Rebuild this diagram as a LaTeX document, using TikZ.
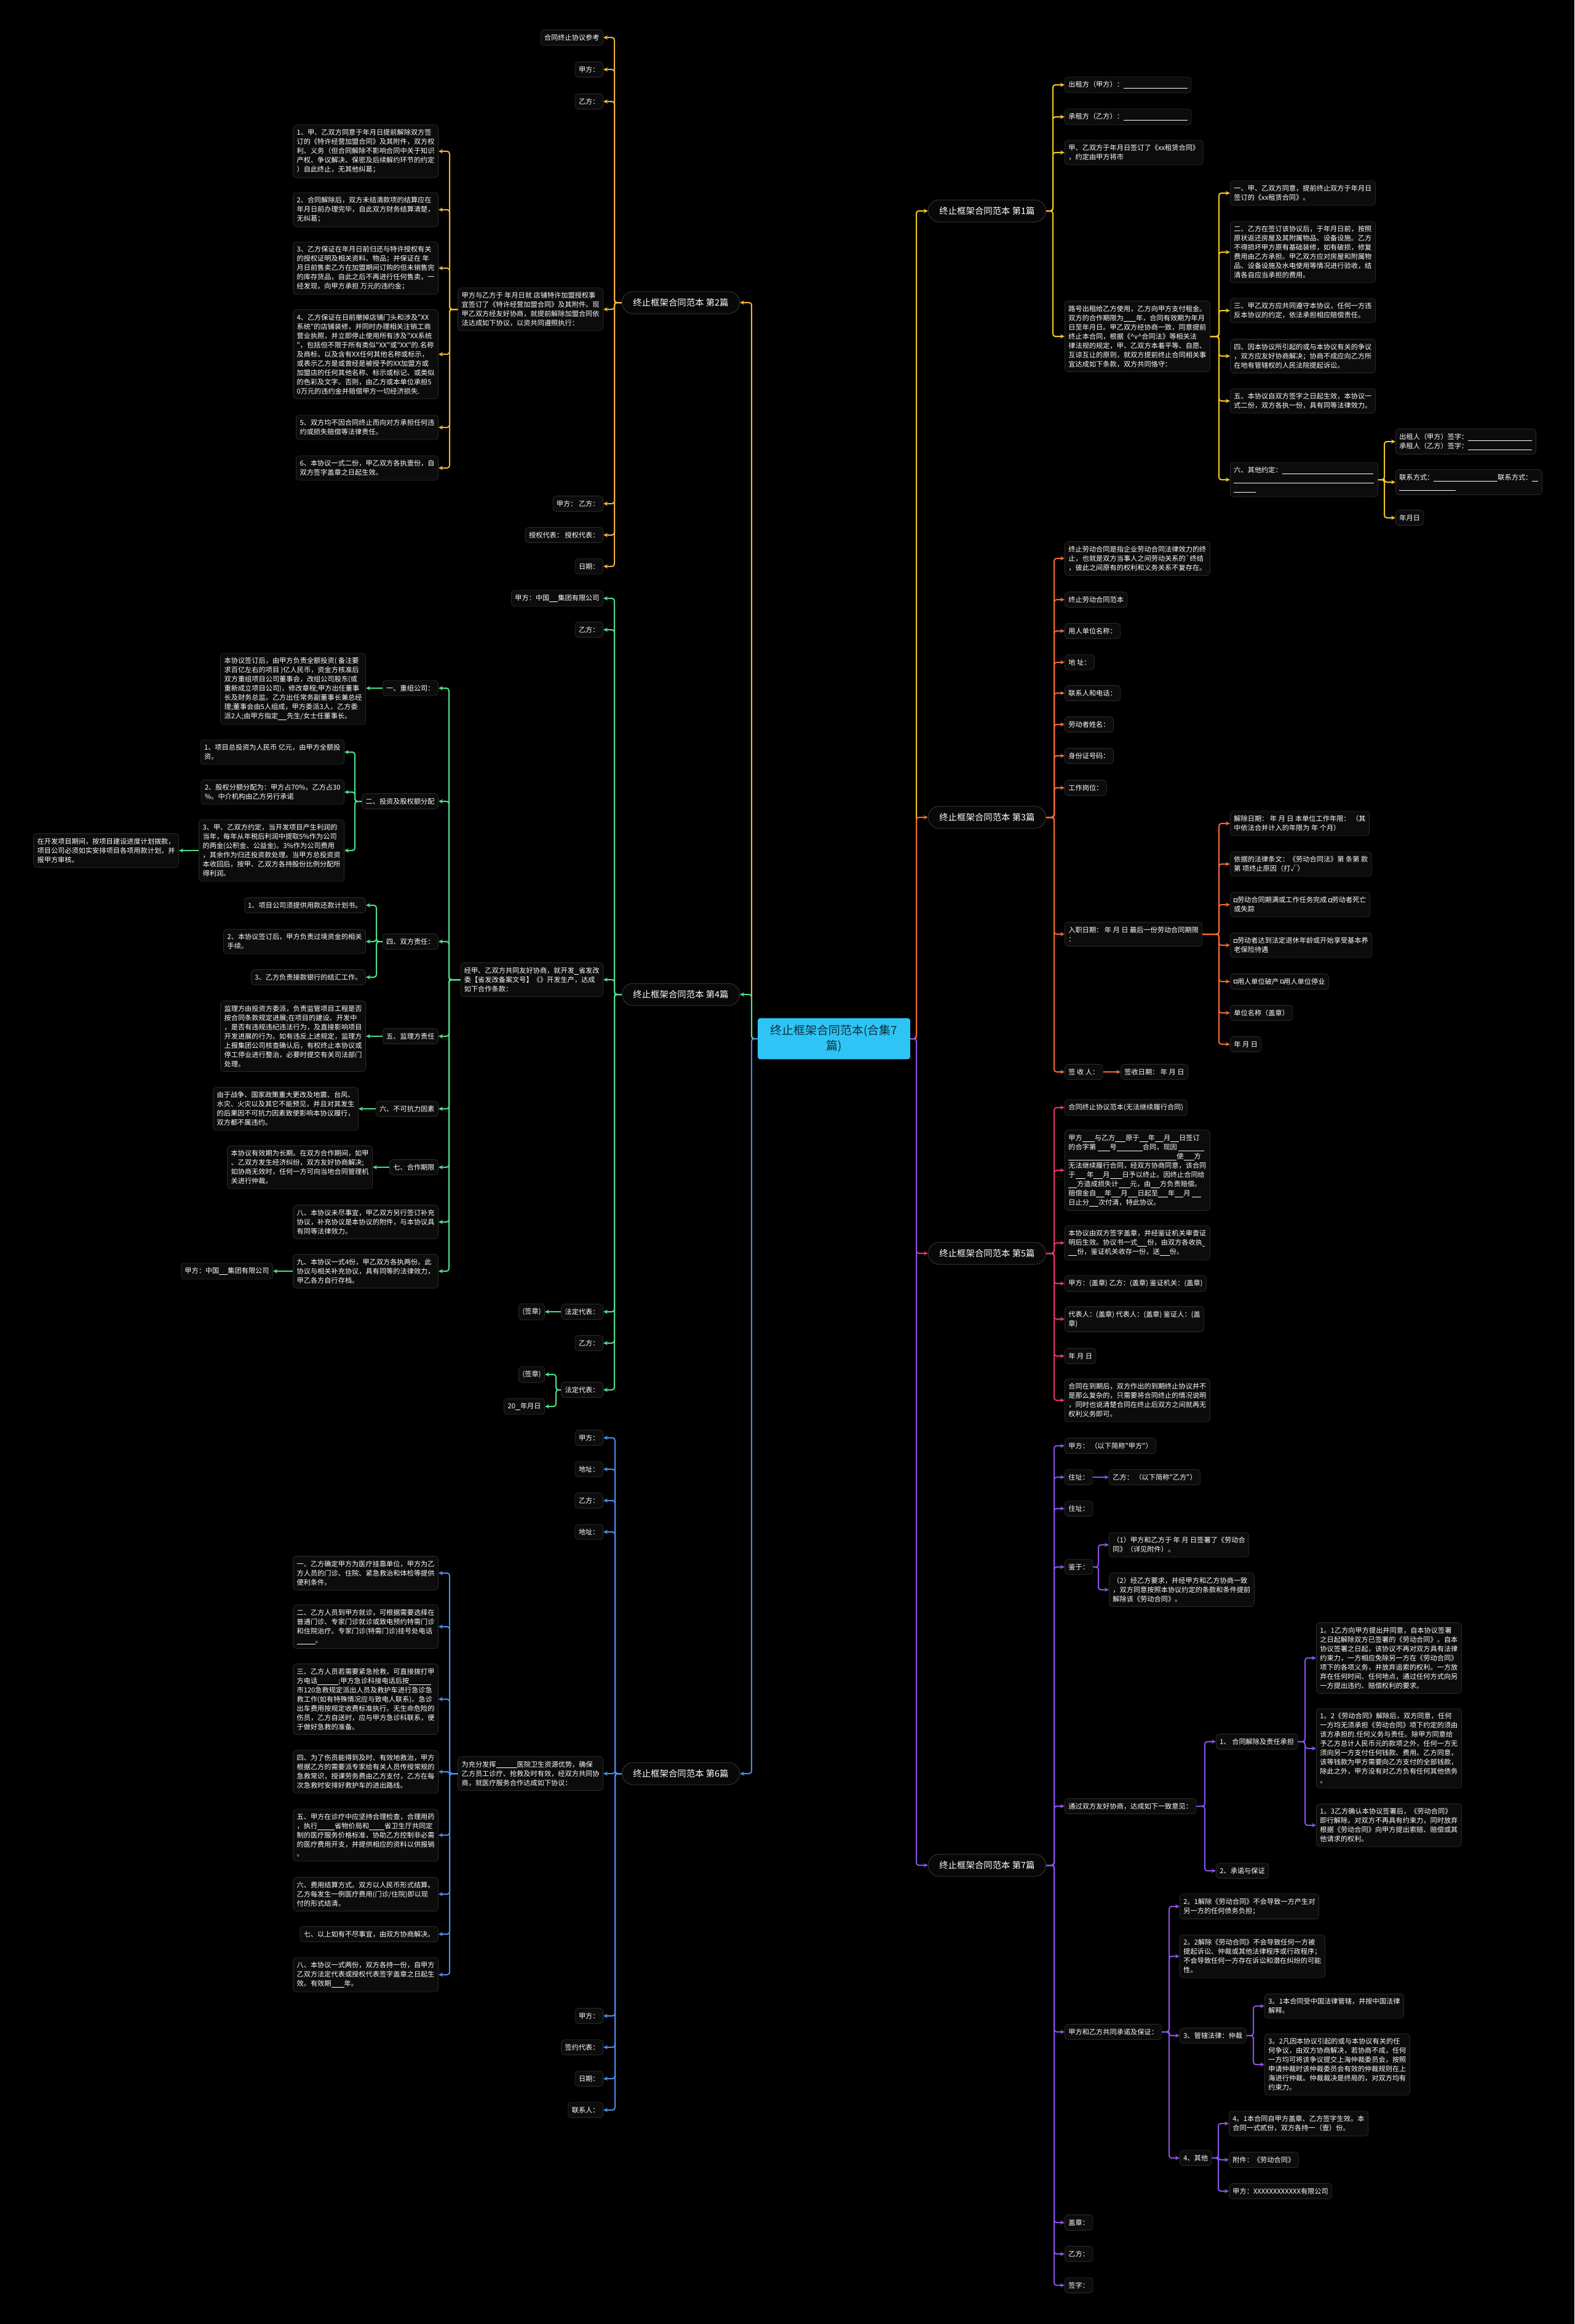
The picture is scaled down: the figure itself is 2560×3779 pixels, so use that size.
\documentclass[tikz,border=0pt]{standalone}
\usepackage{fontspec}
\newfontfamily\cjk{Noto Sans CJK SC}
\usetikzlibrary{arrows.meta}
\definecolor{boxfill}{HTML}{0C0C0C}
\definecolor{boxline}{HTML}{2A2A2A}
\definecolor{brfill}{HTML}{080808}
\definecolor{brline}{HTML}{333333}
\definecolor{ctr}{HTML}{2EC5F6}
\definecolor{ctrtext}{HTML}{12303F}
\definecolor{cA}{HTML}{F5C52B}
\definecolor{cB}{HTML}{EFB23A}
\definecolor{cC}{HTML}{F26A37}
\definecolor{cD}{HTML}{4FE08A}
\definecolor{cE}{HTML}{E8336F}
\definecolor{cF}{HTML}{4C8CEB}
\definecolor{cG}{HTML}{8B52E6}
\newcommand\bl[1]{\rule[-1pt]{#1pt}{0.35pt}}
\newcommand\sq{\raisebox{1pt}{\setlength\fboxsep{0pt}\setlength\fboxrule{0.3pt}\fbox{\rule{2.2pt}{0pt}\rule{0pt}{2.2pt}}}}
\newcommand\fs{\cjk\fontsize{5.6pt}{7.5pt}\selectfont}
\newcommand\cR[4]{\draw[con,#1] (#2.east) -- (#2.east -| #3) |- (#4.west);}
\newcommand\cL[4]{\draw[con,#1] (#2.west) -- (#2.west -| #3) |- (#4.east);}
\newcommand\dR[3]{\draw[con,#1] (#2.east) -- (#2.east -| #3.west);}
\newcommand\dL[3]{\draw[con,#1] (#2.west) -- (#2.west -| #3.east);}
\tikzset{
 bx/.style={draw=boxline, fill=boxfill, line width=0.4pt, rounded corners=2.5pt, text=white, font=\fs, align=left, inner xsep=3pt, inner ysep=3.6pt},
 lt/.style={bx, anchor=east},
 rt/.style={bx, anchor=west},
 brn/.style={draw=brline, fill=brfill, line width=0.5pt, rounded corners=9pt, text=white, font=\cjk\fontsize{7.2pt}{9pt}\selectfont, inner xsep=9pt, inner ysep=5pt, minimum height=18pt},
 ctrbox/.style={fill=ctr, rounded corners=2pt, text=ctrtext, font=\cjk\fontsize{9.5pt}{12.5pt}\selectfont, align=center, text width=108pt, inner xsep=8pt, inner ysep=5.5pt},
 con/.style={line width=1pt, rounded corners=2pt, -{Stealth[length=3.5pt,width=3.4pt]}},
}
\begin{document}
\begin{tikzpicture}[x=0.5pt,y=-0.5pt]
\fill[black] (0,0) rectangle (2560,3779);
\useasboundingbox (0,0) rectangle (2560,3779);
% trunk coordinates
\coordinate (R0) at (1490,0);
\coordinate (L0) at (1222,0);
\coordinate (T1) at (1712,0);
\coordinate (T1b) at (1982,0);
\coordinate (T1c) at (2251,0);
\coordinate (T3) at (1714,0);
\coordinate (T3b) at (1982,0);
\coordinate (T5) at (1714,0);
\coordinate (T7) at (1714,0);
\coordinate (T7a) at (1786,0);
\coordinate (T7b) at (1959,0);
\coordinate (T7c) at (2122,0);
\coordinate (T7d) at (1901,0);
\coordinate (T7e) at (2038,0);
\coordinate (T7f) at (1981,0);
\coordinate (T2) at (999,0);
\coordinate (T2b) at (731,0);
\coordinate (T4) at (999,0);
\coordinate (T4b) at (730,0);
\coordinate (T4d) at (577,0);
\coordinate (T4f) at (612,0);
\coordinate (T4g) at (904,0);
\coordinate (T6) at (1000,0);
\coordinate (T6b) at (731,0);

% center and branches
\node[ctrbox] (c0) at (1356,1689) {终止框架合同范本(合集7\\篇)};
\node[brn] (b1) at (1605,343) {终止框架合同范本 第1篇};
\node[brn] (b3) at (1605,1329) {终止框架合同范本 第3篇};
\node[brn] (b5) at (1605,2038) {终止框架合同范本 第5篇};
\node[brn] (b7) at (1605,3033) {终止框架合同范本 第7篇};
\node[brn] (b2) at (1107,492) {终止框架合同范本 第2篇};
\node[brn] (b4) at (1107,1617) {终止框架合同范本 第4篇};
\node[brn] (b6) at (1107,2884) {终止框架合同范本 第6篇};

% ===== 第1篇 =====
\node[rt] (n1a) at (1731,138) {出租方（甲方）：\bl{52}};
\node[rt] (n1b) at (1731,190) {承租方（乙方）：\bl{52}};
\node[rt] (n1c) at (1731,248) {甲、乙双方于年月日签订了《xx租赁合同》\\，约定由甲方将市};
\node[rt] (n1d) at (1731,547) {路号出租给乙方使用，乙方向甲方支付租金。\\双方的合作期限为\bl{10}年，合同有效期为年月\\日至年月日。甲乙双方经协商一致，同意提前\\终止本合同，根据《\textasciicircum v\textasciicircum 合同法》等相关法\\律法规的规定，甲、乙双方本着平等、自愿、\\互谅互让的原则，就双方提前终止合同相关事\\宜达成如下条款，双方共同恪守：};
\node[rt] (n1d1) at (2000,314) {一、甲、乙双方同意，提前终止双方于年月日\\签订的《xx租赁合同》。};
\node[rt] (n1d2) at (2000,410) {二、乙方在签订该协议后，于年月日前，按照\\原状返还房屋及其附属物品、设备设施。乙方\\不得损坏甲方原有基础装修，如有破损，修复\\费用由乙方承担。甲乙双方应对房屋和附属物\\品、设备设施及水电使用等情况进行验收，结\\清各自应当承担的费用。};
\node[rt] (n1d3) at (2000,505) {三、甲乙双方应共同遵守本协议，任何一方违\\反本协议的约定，依法承担相应赔偿责任。};
\node[rt] (n1d4) at (2000,579) {四、因本协议所引起的或与本协议有关的争议\\，双方应友好协商解决；协商不成应向乙方所\\在地有管辖权的人民法院提起诉讼。};
\node[rt] (n1d5) at (2000,652) {五、本协议自双方签字之日起生效，本协议一\\式二份，双方各执一份，具有同等法律效力。};
\node[rt] (n1d6) at (2000,780) {六、其他约定：\bl{74}\\\bl{114}\\\bl{18}};
\node[rt] (n1e1) at (2269,718) {出租人（甲方）签字：\bl{52}\\承租人（乙方）签字：\bl{52}};
\node[rt] (n1e2) at (2269,784) {联系方式：\bl{52}联系方式：\bl{5}\\\bl{46}};
\node[rt] (n1e3) at (2269,842) {年月日};

% ===== 第3篇 =====
\node[rt] (n3a) at (1731,908) {终止劳动合同是指企业劳动合同法律效力的终\\止，也就是双方当事人之间劳动关系的\textasciigrave 终结\\，彼此之间原有的权利和义务关系不复存在。};
\node[rt] (n3b) at (1731,975) {终止劳动合同范本};
\node[rt] (n3c) at (1731,1026) {用人单位名称：};
\node[rt] (n3d) at (1731,1077) {地 址：};
\node[rt] (n3e) at (1731,1127) {联系人和电话：};
\node[rt] (n3f) at (1731,1178) {劳动者姓名：};
\node[rt] (n3g) at (1731,1229) {身份证号码：};
\node[rt] (n3h) at (1731,1281) {工作岗位：};
\node[rt] (n3i) at (1731,1519) {入职日期：\ 年 月 日 最后一份劳动合同期限\\：};
\node[rt] (n3i1) at (2000,1339) {解除日期：\ 年 月 日 本单位工作年限：\ （其\\中依法合并计入的年限为 年 个月）};
\node[rt] (n3i2) at (2000,1405) {依据的法律条文：《劳动合同法》第 条第 款\\第 项终止原因（打√）};
\node[rt] (n3i3) at (2000,1471) {\sq 劳动合同期满或工作任务完成 \sq 劳动者死亡\\或失踪};
\node[rt] (n3i4) at (2000,1537) {\sq 劳动者达到法定退休年龄或开始享受基本养\\老保险待遇};
\node[rt] (n3i5) at (2000,1596) {\sq 用人单位破产 \sq 用人单位停业};
\node[rt] (n3i6) at (2000,1647) {单位名称（盖章）};
\node[rt] (n3i7) at (2000,1698) {年 月 日};
\node[rt] (n3j) at (1731,1743) {签 收 人：};
\node[rt] (n3k) at (1822,1743) {签收日期：\ 年 月 日};

% ===== 第5篇 =====
\node[rt] (n5a) at (1731,1801) {合同终止协议范本(无法继续履行合同)};
\node[rt] (n5b) at (1731,1903) {甲方\bl{10}与乙方\bl{8.5}原于\bl{7}年\bl{7}月\bl{7}日签订\\的合字第 \bl{10}号\bl{21}合同，现因 \bl{21}\\\bl{88}使\bl{8.5}方\\无法继续履行合同，经双方协商同意，该合同\\于\bl{8} 年\bl{7.5}月\bl{10}日予以终止。因终止合同给\\\bl{7}方造成损失计\bl{9.5}元，由\bl{7.5}方负责赔偿。\\赔偿金自\bl{7}年\bl{7.5}月\bl{8}日起至\bl{8}年\bl{7}月 \bl{7.5}\\日止分\bl{7.5}次付清，特此协议。};
\node[rt] (n5c) at (1731,2021) {本协议由双方签字盖章，并经鉴证机关审查证\\明后生效。协议书一式\bl{8}份，由双方各收执\bl{2}\\\bl{7}份，鉴证机关收存一份，送\bl{8}份。};
\node[rt] (n5d) at (1731,2087) {甲方：(盖章) 乙方：(盖章) 鉴证机关：(盖章)};
\node[rt] (n5e) at (1731,2145) {代表人：(盖章) 代表人：(盖章) 鉴证人：(盖\\章)};
\node[rt] (n5f) at (1731,2205) {年 月 日};
\node[rt] (n5g) at (1731,2277) {合同在到期后，双方作出的到期终止协议并不\\是那么复杂的，只需要将合同终止的情况说明\\，同时也说清楚合同在终止后双方之间就再无\\权利义务即可。};

% ===== 第7篇 =====
\node[rt] (n7a) at (1731,2351) {甲方：\ （以下简称"甲方"）};
\node[rt] (n7b) at (1731,2402) {住址：};
\node[rt] (n7b1) at (1803,2402) {乙方：\ （以下简称"乙方"）};
\node[rt] (n7c) at (1731,2453) {住址：};
\node[rt] (n7d) at (1731,2548) {鉴于：};
\node[rt] (n7d1) at (1803,2512) {（1）甲方和乙方于 年 月 日签署了《劳动合\\同》（详见附件）。};
\node[rt] (n7d2) at (1803,2585) {（2）经乙方要求，并经甲方和乙方协商一致\\，双方同意按照本协议约定的条款和条件提前\\解除该《劳动合同》。};
\node[rt] (n7e) at (1731,2937) {通过双方友好协商，达成如下一致意见：};
\node[rt] (n7e1) at (1977,2832) {1、 合同解除及责任承担};
\node[rt] (n7e11) at (2140,2696) {1。1乙方向甲方提出并同意，自本协议签署\\之日起解除双方已签署的《劳动合同》。自本\\协议签署之日起，该协议不再对双方具有法律\\约束力，一方相应免除另一方在《劳动合同》\\项下的各项义务，并放弃追索的权利。一方放\\弃在任何时间、任何地点，通过任何方式向另\\一方提出违约、赔偿权利的要求。};
\node[rt] (n7e12) at (2140,2843) {1。2《劳动合同》解除后，双方同意，任何\\一方均无须承担《劳动合同》项下约定的须由\\该方承担的.任何义务与责任。除甲方同意给\\予乙方总计人民币元的款项之外，任何一方无\\须向另一方支付任何钱款、费用。乙方同意，\\该等钱款为甲方需要向乙方支付的全部钱款，\\除此之外，甲方没有对乙方负有任何其他债务\\。};
\node[rt] (n7e13) at (2140,2968) {1。3乙方确认本协议签署后，《劳动合同》\\即行解除，对双方不再具有约束力，同时放弃\\根据《劳动合同》向甲方提出索赔、赔偿或其\\他请求的权利。};
\node[rt] (n7e2) at (1977,3042) {2、承诺与保证};
\node[rt] (n7f) at (1731,3304) {甲方和乙方共同承诺及保证：};
\node[rt] (n7f1) at (1918,3100) {2。1解除《劳动合同》不会导致一方产生对\\另一方的任何债务负担；};
\node[rt] (n7f2) at (1918,3181) {2。2解除《劳动合同》不会导致任何一方被\\提起诉讼、仲裁或其他法律程序或行政程序；\\不会导致任何一方存在诉讼和潜在纠纷的可能\\性。};
\node[rt] (n7f3) at (1918,3310) {3、管辖法律：仲裁};
\node[rt] (n7f31) at (2056,3262) {3。1本合同受中国法律管辖，并按中国法律\\解释。};
\node[rt] (n7f32) at (2056,3357) {3。2凡因本协议引起的或与本协议有关的任\\何争议，由双方协商解决，若协商不成，任何\\一方均可将该争议提交上海仲裁委员会，按照\\申请仲裁时该仲裁委员会有效的仲裁规则在上\\海进行仲裁。仲裁裁决是终局的，对双方均有\\约束力。};
\node[rt] (n7f4) at (1918,3509) {4、其他};
\node[rt] (n7f41) at (1998,3453) {4。1本合同自甲方盖章、乙方签字生效。本\\合同一式贰份，双方各持一（壹）份。};
\node[rt] (n7f42) at (1998,3512) {附件：《劳动合同》};
\node[rt] (n7f43) at (1998,3563) {甲方：XXXXXXXXXXXX有限公司};
\node[rt] (n7g) at (1731,3614) {盖章：};
\node[rt] (n7h) at (1731,3665) {乙方：};
\node[rt] (n7i) at (1731,3716) {签字：};

% ===== 第2篇 =====
\node[lt] (n2a) at (981,61) {合同终止协议参考};
\node[lt] (n2b) at (981,113) {甲方：};
\node[lt] (n2c) at (981,165) {乙方：};
\node[lt] (n2d) at (981,503) {甲方与乙方于 年月日就 店铺特许加盟授权事\\宜签订了《特许经营加盟合同》及其附件。现\\甲乙双方经友好协商，就提前解除加盟合同依\\法达成如下协议，以资共同遵照执行：};
\node[lt] (n2d1) at (713,246) {1、甲、乙双方同意于年月日提前解除双方签\\订的《特许经营加盟合同》及其附件，双方权\\利、义务（但合同解除不影响合同中关于知识\\产权、争议解决、保密及后续解约环节的约定\\）自此终止，无其他纠葛；};
\node[lt] (n2d2) at (713,341) {2、合同解除后，双方未结清款项的结算应在\\年月日前办理完毕，自此双方财务结算清楚，\\无纠葛；};
\node[lt] (n2d3) at (713,436) {3、乙方保证在年月日前归还与特许授权有关\\的授权证明及相关资料、物品；并保证在 年\\月日前售卖乙方在加盟期间订购的但未销售完\\的库存货品，自此之后不再进行任何售卖，一\\经发现，向甲方承担 万元的违约金；};
\node[lt] (n2d4) at (713,576) {4、乙方保证在日前撤掉店铺门头和涉及"XX\\系统"的店铺装修，并同时办理相关注销工商\\营业执照，并立即停止使用所有涉及"XX系统\\"，包括但不限于所有类似"XX"或"XX"的.名称\\及商标，以及含有XX任何其他名称或标示，\\或表示乙方是或曾经是被授予的XX加盟方或\\加盟店的任何其他名称、标示或标记、或类似\\的色彩及文字。否则，由乙方或本单位承担5\\0万元的违约金并赔偿甲方一切经济损失.};
\node[lt] (n2d5) at (713,695) {5、双方均不因合同终止而向对方承担任何违\\约或损失赔偿等法律责任。};
\node[lt] (n2d6) at (713,761) {6、本协议一式二份，甲乙双方各执壹份，自\\双方签字盖章之日起生效。};
\node[lt] (n2e) at (981,819) {甲方：\ 乙方：};
\node[lt] (n2f) at (981,870) {授权代表：\ 授权代表：};
\node[lt] (n2g) at (981,921) {日期：};

% ===== 第4篇 =====
\node[lt] (n4a) at (981,973) {甲方：中国\bl{7}集团有限公司};
\node[lt] (n4b) at (981,1024) {乙方：};
\node[lt] (n4c) at (981,1593) {经甲、乙双方共同友好协商，就开发\bl{3.5}省发改\\委【省发改备案文号】《》开发生产，达成\\如下合作条款：};
\node[lt] (n4c1) at (713,1119) {一、重组公司：};
\node[lt] (n4c1a) at (595,1120) {本协议签订后，由甲方负责全额投资( 备注要\\求百亿左右的项目 )亿人民币，资金方核准后\\双方重组项目公司董事会，改组公司股东(或\\重新成立项目公司)，修改章程;甲方出任董事\\长及财务总监。乙方出任常务副董事长兼总经\\理;董事会由5人组成，甲方委派3人，乙方委\\派2人;由甲方指定\bl{7}先生/女士任董事长。};
\node[lt] (n4c2) at (713,1303) {二、投资及股权额分配};
\node[lt] (n4c2a) at (560,1223) {1、项目总投资为人民币 亿元，由甲方全额投\\资。};
\node[lt] (n4c2b) at (560,1288) {2、股权分额分配为：甲方占70\%，乙方占30\\\%。中介机构由乙方另行承诺};
\node[lt] (n4c2c) at (560,1383) {3、甲、乙双方约定，当开发项目产生利润的\\当年，每年从年税后利润中提取5\%作为公司\\的两金(公积金、公益金)。3\%作为公司费用\\，其余作为归还投资款处理。当甲方总投资资\\本收回后，按甲、乙双方各持股份比例分配所\\得利润。};
\node[lt] (n4c2c1) at (291,1383) {在开发项目期间，按项目建设进度计划拨款，\\项目公司必须如实安排项目各项用款计划，并\\报甲方审核。};
\node[lt] (n4c4) at (713,1531) {四、双方责任：};
\node[lt] (n4c4a) at (595,1472) {1、项目公司须提供用款还款计划书。};
\node[lt] (n4c4b) at (595,1531) {2、本协议签订后，甲方负责过境资金的相关\\手续。};
\node[lt] (n4c4c) at (595,1589) {3、乙方负责接款银行的结汇工作。};
\node[lt] (n4c5) at (713,1685) {五、监理方责任};
\node[lt] (n4c5a) at (595,1685) {监理方由投资方委派，负责监管项目工程是否\\按合同条款规定进展;在项目的建设、开发中\\，是否有违规违纪违法行为，及直接影响项目\\开发进展的行为。如有违反上述规定，监理方\\上报集团公司核查确认后，有权终止本协议或\\停工停业进行整治，必要时提交有关司法部门\\处理。};
\node[lt] (n4c6) at (713,1803) {六、不可抗力因素};
\node[lt] (n4c6a) at (583,1803) {由于战争、国家政策重大更改及地震、台风、\\水灾、火灾以及其它不能预见，并且对其发生\\的后果因不可抗力因素致使影响本协议履行，\\双方都不属违约。};
\node[lt] (n4c7) at (713,1898) {七、合作期限};
\node[lt] (n4c7a) at (606,1898) {本协议有效期为长期。在双方合作期间，如甲\\、乙双方发生经济纠纷，双方友好协商解决;\\如协商无效时，任何一方可向当地合同管理机\\关进行仲裁。};
\node[lt] (n4c8) at (713,1987) {八、本协议未尽事宜，甲乙双方另行签订补充\\协议，补充协议是本协议的附件，与本协议具\\有同等法律效力。};
\node[lt] (n4c9) at (713,2067) {九、本协议一式4份，甲乙双方各执两份。此\\协议与相关补充协议，具有同等的法律效力，\\甲乙各方自行存档。};
\node[lt] (n4c9a) at (444,2067) {甲方：中国\bl{7}集团有限公司};
\node[lt] (n4d) at (981,2133) {法定代表：};
\node[lt] (n4d1) at (886,2133) {(签章)};
\node[lt] (n4e) at (981,2184) {乙方：};
\node[lt] (n4f) at (981,2260) {法定代表：};
\node[lt] (n4f1) at (886,2235) {(签章)};
\node[lt] (n4f2) at (886,2287) {20\bl{4}年月日};

% ===== 第6篇 =====
\node[lt] (n6a) at (981,2338) {甲方：};
\node[lt] (n6b) at (981,2389) {地址：};
\node[lt] (n6c) at (981,2440) {乙方：};
\node[lt] (n6d) at (981,2491) {地址：};
\node[lt] (n6e) at (981,2884) {为充分发挥\bl{17}医院卫生资源优势，确保\\乙方员工诊疗、抢救及时有效，经双方共同协\\商，就医疗服务合作达成如下协议：};
\node[lt] (n6e1) at (713,2558) {一、乙方确定甲方为医疗挂靠单位，甲方为乙\\方人员的门诊、住院、紧急救治和体检等提供\\便利条件。};
\node[lt] (n6e2) at (713,2645) {二、乙方人员到甲方就诊，可根据需要选择在\\普通门诊、专家门诊就诊或致电预约特需门诊\\和住院治疗。专家门诊(特需门诊)挂号处电话\\\bl{15}。};
\node[lt] (n6e3) at (713,2763) {三、乙方人员若需要紧急抢救，可直接拨打甲\\方电话\bl{17};甲方急诊科接电话后按\bl{18}\\市120急救规定派出人员及救护车进行急诊急\\救工作(如有特殊情况应与致电人联系)。急诊\\出车费用按规定收费标准执行。无生命危险的\\伤员，乙方自送时，应与甲方急诊科联系，便\\于做好急救的准备。};
\node[lt] (n6e4) at (713,2881) {四、为了伤员能得到及时、有效地救治，甲方\\根据乙方的需要派专家给有关人员传授常规的\\急救常识，授课劳务费由乙方支付，乙方在每\\次急救时安排好救护车的进出路线。};
\node[lt] (n6e5) at (713,2984) {五、甲方在诊疗中应坚持合理检查，合理用药\\，执行\bl{14}省物价局和\bl{12.5}省卫生厅共同定\\制的医疗服务价格标准，协助乙方控制非必需\\的医疗费用开支，并提供相应的资料以供报销\\。};
\node[lt] (n6e6) at (713,3080) {六、费用结算方式。双方以人民币形式结算。\\乙方每发生一例医疗费用(门诊/住院)即以现\\付的形式结清。};
\node[lt] (n6e7) at (713,3145) {七、以上如有不尽事宜，由双方协商解决。};
\node[lt] (n6e8) at (713,3211) {八、本协议一式两份，双方各持一份，自甲方\\乙双方法定代表或授权代表签字盖章之日起生\\效。有效期\bl{10.5}年。};
\node[lt] (n6f) at (981,3278) {甲方：};
\node[lt] (n6g) at (981,3329) {签约代表：};
\node[lt] (n6h) at (981,3380) {日期：};
\node[lt] (n6i) at (981,3431) {联系人：};

% ===== connectors: center =====
\cR{cA}{c0}{R0}{b1}
\cR{cC}{c0}{R0}{b3}
\cR{cE}{c0}{R0}{b5}
\cR{cG}{c0}{R0}{b7}
\cL{cB}{c0}{L0}{b2}
\cL{cD}{c0}{L0}{b4}
\cL{cF}{c0}{L0}{b6}

% 第1篇
\foreach \n in {n1a,n1b,n1c,n1d} {\cR{cA}{b1}{T1}{\n}}
\foreach \n in {n1d1,n1d2,n1d3,n1d4,n1d5,n1d6} {\cR{cA}{n1d}{T1b}{\n}}
\foreach \n in {n1e1,n1e2,n1e3} {\cR{cA}{n1d6}{T1c}{\n}}

% 第3篇
\foreach \n in {n3a,n3b,n3c,n3d,n3e,n3f,n3g,n3h,n3i,n3j} {\cR{cC}{b3}{T3}{\n}}
\foreach \n in {n3i1,n3i2,n3i3,n3i4,n3i5,n3i6,n3i7} {\cR{cC}{n3i}{T3b}{\n}}
\dR{cC}{n3j}{n3k}

% 第5篇
\foreach \n in {n5a,n5b,n5c,n5d,n5e,n5f,n5g} {\cR{cE}{b5}{T5}{\n}}

% 第7篇
\foreach \n in {n7a,n7b,n7c,n7d,n7e,n7f,n7g,n7h,n7i} {\cR{cG}{b7}{T7}{\n}}
\dR{cG}{n7b}{n7b1}
\foreach \n in {n7d1,n7d2} {\cR{cG}{n7d}{T7a}{\n}}
\foreach \n in {n7e1,n7e2} {\cR{cG}{n7e}{T7b}{\n}}
\foreach \n in {n7e11,n7e12,n7e13} {\cR{cG}{n7e1}{T7c}{\n}}
\foreach \n in {n7f1,n7f2,n7f3,n7f4} {\cR{cG}{n7f}{T7d}{\n}}
\foreach \n in {n7f31,n7f32} {\cR{cG}{n7f3}{T7e}{\n}}
\foreach \n in {n7f41,n7f42,n7f43} {\cR{cG}{n7f4}{T7f}{\n}}

% 第2篇
\foreach \n in {n2a,n2b,n2c,n2d,n2e,n2f,n2g} {\cL{cB}{b2}{T2}{\n}}
\foreach \n in {n2d1,n2d2,n2d3,n2d4,n2d5,n2d6} {\cL{cB}{n2d}{T2b}{\n}}

% 第4篇
\foreach \n in {n4a,n4b,n4c,n4d,n4e,n4f} {\cL{cD}{b4}{T4}{\n}}
\foreach \n in {n4c1,n4c2,n4c4,n4c5,n4c6,n4c7,n4c8,n4c9} {\cL{cD}{n4c}{T4b}{\n}}
\dL{cD}{n4c1}{n4c1a}
\foreach \n in {n4c2a,n4c2b,n4c2c} {\cL{cD}{n4c2}{T4d}{\n}}
\dL{cD}{n4c2c}{n4c2c1}
\foreach \n in {n4c4a,n4c4b,n4c4c} {\cL{cD}{n4c4}{T4f}{\n}}
\dL{cD}{n4c5}{n4c5a}
\dL{cD}{n4c6}{n4c6a}
\dL{cD}{n4c7}{n4c7a}
\dL{cD}{n4c9}{n4c9a}
\dL{cD}{n4d}{n4d1}
\foreach \n in {n4f1,n4f2} {\cL{cD}{n4f}{T4g}{\n}}

% 第6篇
\foreach \n in {n6a,n6b,n6c,n6d,n6e,n6f,n6g,n6h,n6i} {\cL{cF}{b6}{T6}{\n}}
\foreach \n in {n6e1,n6e2,n6e3,n6e4,n6e5,n6e6,n6e7,n6e8} {\cL{cF}{n6e}{T6b}{\n}}
\end{tikzpicture}
\end{document}
